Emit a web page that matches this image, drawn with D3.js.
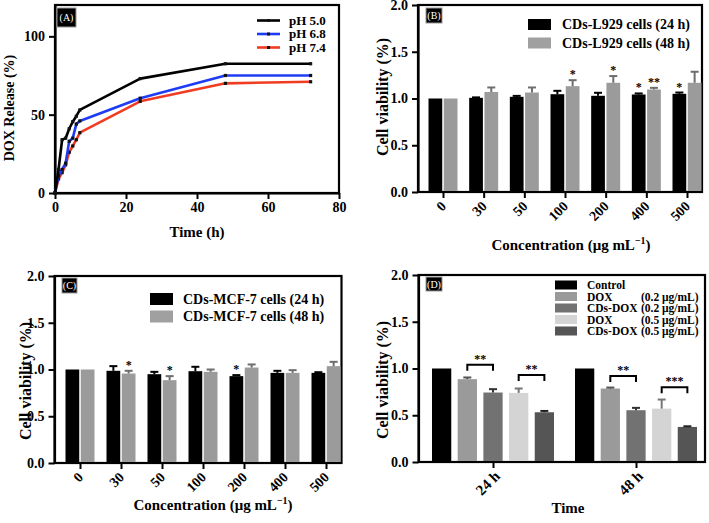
<!DOCTYPE html>
<html><head><meta charset="utf-8">
<script src="https://cdn.jsdelivr.net/npm/d3@7"></script>
<style>body{margin:0;background:#fff} svg{display:block}</style>
</head><body><svg id="c" width="709" height="523"></svg>
<script>
// ---------- Panel A: DOX release ----------
const releaseTime = [0, 1, 2, 3, 4, 5, 6, 7, 24, 48, 72];
const releasePH50 = [0, 15, 34, 35, 41, 45.5, 49, 53, 73, 82.5, 82.5];
const releasePH68 = [0, 11, 15, 19, 33, 35, 44, 46, 60.5, 75, 75];
const releasePH74 = [0, 9, 13, 18, 26, 30, 34, 38.5, 58.5, 70, 71];
const releaseLabels = ["pH 5.0", "pH 6.8", "pH 7.4"];
const releaseColors = ["#000000", "#1f3cf5", "#f03c22"];
const releaseXTicks = [0, 20, 40, 60, 80];
const releaseYTicks = [0, 50, 100];

// ---------- Panel B: L929 ----------
const concCategories = ["0", "30", "50", "100", "200", "400", "500"];
const l929_24 = [1.00, 1.007, 1.018, 1.046, 1.029, 1.043, 1.05];
const l929_24Err = [0, 0.005, 0.01, 0.036, 0.032, 0.011, 0.014];
const l929_24Sig = ["", "", "", "", "", "*", "*"];
const l929_48 = [1.00, 1.07, 1.064, 1.132, 1.168, 1.096, 1.168];
const l929_48Err = [0, 0.048, 0.054, 0.064, 0.072, 0.018, 0.118];
const l929_48Sig = ["", "", "", "*", "*", "**", ""];
const l929Legend = ["CDs-L929 cells (24 h)", "CDs-L929 cells (48 h)"];

// ---------- Panel C: MCF-7 ----------
const mcf7_24 = [1.00, 0.986, 0.95, 0.982, 0.929, 0.964, 0.964];
const mcf7_24Err = [0, 0.05, 0.025, 0.047, 0.011, 0.022, 0.007];
const mcf7_24Sig = ["", "", "", "", "*", "", ""];
const mcf7_48 = [1.00, 0.957, 0.886, 0.975, 1.021, 0.964, 1.036];
const mcf7_48Err = [0, 0.029, 0.043, 0.025, 0.033, 0.029, 0.046];
const mcf7_48Sig = ["", "*", "*", "", "", "", ""];
const mcf7Legend = ["CDs-MCF-7 cells (24 h)", "CDs-MCF-7 cells (48 h)"];

const viabilityTicks = [0, 0.5, 1.0, 1.5, 2.0];

// ---------- Panel D: DOX treatments ----------
const timeCategories = ["24 h", "48 h"];
const treatControl = [1.0, 1.0];
const treatControlErr = [0, 0];
const treatDox02 = [0.886, 0.786];
const treatDox02Err = [0.018, 0.01];
const treatCdsDox02 = [0.743, 0.554];
const treatCdsDox02Err = [0.036, 0.025];
const treatDox05 = [0.739, 0.571];
const treatDox05Err = [0.047, 0.097];
const treatCdsDox05 = [0.532, 0.375];
const treatCdsDox05Err = [0.014, 0.007];
const treatNames = ["Control", "DOX", "CDs-DOX", "DOX", "CDs-DOX"];
const treatDoses = ["", "(0.2 μg/mL)", "(0.2 μg/mL)", "(0.5 μg/mL)", "(0.5 μg/mL)"];
const treatColors = ["#000000", "#9a9a9a", "#727272", "#d4d4d4", "#555555"];
// significance brackets: [time index, series a, series b, label, bracket level]
const treatBrackets = [[0, 1, 2, "**", 1.04], [0, 3, 4, "**", 0.93], [1, 1, 2, "**", 0.92], [1, 3, 4, "***", 0.80]];

// ======================================================
const FONT = '"Liberation Serif","Times New Roman",serif';
const svg = d3.select("#c");

function styleAxis(g, fs) {
  g.select(".domain").attr("stroke", "#000").attr("stroke-width", 2.2);
  g.selectAll(".tick line").attr("stroke", "#000").attr("stroke-width", 2);
  g.selectAll(".tick text").attr("font-family", FONT).attr("font-weight", "bold")
    .attr("font-size", fs).attr("fill", "#000");
}
function frame(b) {
  svg.append("rect").attr("x", b.l).attr("y", b.t).attr("width", b.r - b.l).attr("height", b.b - b.t)
    .attr("fill", "none").attr("stroke", "#000").attr("stroke-width", 2.2);
}
function tag(x, y, w, h, label) {
  svg.append("rect").attr("x", x).attr("y", y).attr("width", w).attr("height", h)
    .attr("fill", "#000").attr("stroke", "#999").attr("stroke-width", 1);
  svg.append("text").attr("x", x + w / 2).attr("y", y + h / 2).attr("dy", "0.36em")
    .attr("text-anchor", "middle").attr("font-family", FONT).attr("font-size", 10)
    .attr("fill", "#fff").text(label);
}
function yTitle(x, y, fs, txt) {
  svg.append("text").attr("transform", `translate(${x},${y}) rotate(-90)`).attr("dy", "0.35em")
    .attr("text-anchor", "middle").attr("font-family", FONT).attr("font-weight", "bold")
    .attr("font-size", fs).text(txt);
}
function concTitle(x, y) {
  const t = svg.append("text").attr("x", x).attr("y", y).attr("text-anchor", "middle")
    .attr("font-family", FONT).attr("font-weight", "bold").attr("font-size", 15);
  t.append("tspan").text("Concentration (μg mL");
  t.append("tspan").attr("dy", -6).attr("font-size", 10).text("−1");
  t.append("tspan").attr("dy", 6).text(")");
}

// ---------------- Panel A ----------------
(function () {
  const b = { l: 55, r: 339, t: 5, b: 193 };
  const x = d3.scaleLinear().domain([0, 80]).range([b.l, b.r]);
  const y = d3.scaleLinear().domain([0, 120]).range([b.b, b.t]);
  frame(b);
  const gx = svg.append("g").attr("transform", `translate(0,${b.b})`)
    .call(d3.axisBottom(x).tickValues(releaseXTicks).tickSize(6).tickSizeOuter(0).tickPadding(3));
  styleAxis(gx, 14);
  const gy = svg.append("g").attr("transform", `translate(${b.l},0)`)
    .call(d3.axisLeft(y).tickValues(releaseYTicks).tickSize(6).tickSizeOuter(0).tickPadding(4));
  styleAxis(gy, 14);
  const seriesA = [releasePH50, releasePH68, releasePH74];
  const line = d3.line().x((d, i) => x(releaseTime[i])).y(d => y(d));
  [2, 1, 0].forEach(k => {
    svg.append("path").datum(seriesA[k]).attr("d", line).attr("fill", "none")
      .attr("stroke", releaseColors[k]).attr("stroke-width", 2.6).attr("stroke-linejoin", "round");
    svg.append("g").selectAll("rect").data(seriesA[k]).join("rect")
      .attr("x", (d, i) => x(releaseTime[i]) - 1.6).attr("y", d => y(d) - 1.6)
      .attr("width", 3.2).attr("height", 3.2).attr("fill", "#111");
  });
  releaseLabels.forEach((lab, k) => {
    const yy = [20.5, 34, 47.5][k];
    svg.append("line").attr("x1", 257).attr("x2", 280).attr("y1", yy).attr("y2", yy)
      .attr("stroke", releaseColors[k]).attr("stroke-width", 2.6);
    svg.append("rect").attr("x", 267).attr("y", yy - 1.5).attr("width", 3).attr("height", 3).attr("fill", "#111");
    svg.append("text").attr("x", 289).attr("y", yy).attr("dy", "0.33em").attr("font-family", FONT)
      .attr("font-weight", "bold").attr("font-size", 13).text(lab);
  });
  tag(57, 8, 19, 19, "(A)");
  yTitle(9, 108, 14, "DOX Release (%)");
  svg.append("text").attr("x", 197).attr("y", 237).attr("text-anchor", "middle").attr("font-family", FONT)
    .attr("font-weight", "bold").attr("font-size", 15).text("Time (h)");
})();

// ---------------- Bar panel helper ----------------
function barPanel(o) {
  const b = o.box;
  const x0 = d3.scalePoint().domain(o.cats).range(o.xRange);
  const x1 = d3.scaleBand().domain(d3.range(o.series.length)).range(o.inner).paddingInner(o.pad);
  const y = d3.scaleLinear().domain([0, 2]).range([b.b, b.t]);
  frame(b);
  o.series.forEach((s, k) => {
    const g = svg.append("g");
    g.selectAll("rect").data(s.values).join("rect")
      .attr("x", (d, i) => x0(o.cats[i]) + x1(k)).attr("width", x1.bandwidth())
      .attr("y", d => y(d)).attr("height", d => b.b - y(d)).attr("fill", s.color);
    const ec = s.errColor;
    s.values.forEach((v, i) => {
      const cx = x0(o.cats[i]) + x1(k) + x1.bandwidth() / 2;
      const e = s.errs[i];
      if (e > 0) {
        g.append("line").attr("x1", cx).attr("x2", cx).attr("y1", y(v)).attr("y2", y(v + e))
          .attr("stroke", ec).attr("stroke-width", 2);
        g.append("line").attr("x1", cx - 4).attr("x2", cx + 4).attr("y1", y(v + e)).attr("y2", y(v + e))
          .attr("stroke", ec).attr("stroke-width", 2);
      }
      if (s.sig && s.sig[i]) {
        g.append("text").attr("x", cx).attr("y", y(v + e) - 2).attr("text-anchor", "middle")
          .attr("font-family", FONT).attr("font-weight", "bold").attr("font-size", 12)
          .attr("fill", "#000").text(s.sig[i]);
      }
    });
  });
  const gx = svg.append("g").attr("transform", `translate(0,${b.b})`)
    .call(d3.axisBottom(x0).tickSize(6).tickSizeOuter(0).tickFormat(""));
  styleAxis(gx, 14);
  gx.select(".domain").attr("d", `M${b.l},0H${b.r}`);
  // rotated category labels
  const lg = svg.append("g");
  o.cats.forEach(c => {
    lg.append("g").attr("transform", `translate(${x0(c) + o.rot[0]},${b.b + o.rot[1]})`)
      .append("text").attr("transform", "rotate(-45)").attr("text-anchor", "end")
      .attr("font-family", FONT).attr("font-weight", "bold").attr("font-size", o.xfs || 14)
      .attr("fill", "#000").text(c);
  });
  const gy = svg.append("g").attr("transform", `translate(${b.l},0)`)
    .call(d3.axisLeft(y).tickValues(viabilityTicks).tickFormat(d3.format(".1f")).tickSize(6).tickSizeOuter(0).tickPadding(4));
  styleAxis(gy, 14);
  return { x0, x1, y };
}

// ---------------- Panel B ----------------
(function () {
  const box = { l: 418, r: 702, t: 5, b: 192 };
  barPanel({
    box, cats: concCategories, xRange: [443, 687], inner: [-14.5, 14.5], pad: 0.1, rot: [4, 15],
    series: [
      { values: l929_24, errs: l929_24Err, sig: l929_24Sig, color: "#000", errColor: "#000" },
      { values: l929_48, errs: l929_48Err, sig: l929_48Sig, color: "#9b9b9b", errColor: "#6e6e6e" }
    ]
  });
  const cols = ["#000", "#a0a0a0"];
  l929Legend.forEach((lab, k) => {
    const yy = [24.5, 43][k];
    svg.append("rect").attr("x", 528).attr("y", yy - 5.5).attr("width", 23).attr("height", 11).attr("fill", cols[k]);
    svg.append("text").attr("x", 562).attr("y", yy).attr("dy", "0.35em").attr("font-family", FONT)
      .attr("font-weight", "bold").attr("font-size", 14).text(lab);
  });
  tag(426, 8, 16, 15, "(B)");
  yTitle(382, 97, 16, "Cell viability (%)");
  concTitle(571, 250);
})();

// ---------------- Panel C ----------------
(function () {
  const box = { l: 54.5, r: 341.5, t: 276, b: 463 };
  barPanel({
    box, cats: concCategories, xRange: [80, 326], inner: [-14.5, 14.5], pad: 0.1, rot: [4, 15],
    series: [
      { values: mcf7_24, errs: mcf7_24Err, sig: mcf7_24Sig, color: "#000", errColor: "#000" },
      { values: mcf7_48, errs: mcf7_48Err, sig: mcf7_48Sig, color: "#9b9b9b", errColor: "#6e6e6e" }
    ]
  });
  const cols = ["#000", "#a0a0a0"];
  mcf7Legend.forEach((lab, k) => {
    const yy = [299, 316.5][k];
    svg.append("rect").attr("x", 150).attr("y", yy - 6).attr("width", 23).attr("height", 12).attr("fill", cols[k]);
    svg.append("text").attr("x", 183).attr("y", yy).attr("dy", "0.35em").attr("font-family", FONT)
      .attr("font-weight", "bold").attr("font-size", 14).text(lab);
  });
  tag(62, 278, 15, 15, "(C)");
  yTitle(25, 381, 16, "Cell viability (%)");
  concTitle(213, 510);
})();

// ---------------- Panel D ----------------
(function () {
  const box = { l: 418.5, r: 705, t: 275, b: 462 };
  const seriesVals = [treatControl, treatDox02, treatCdsDox02, treatDox05, treatCdsDox05];
  const seriesErrs = [treatControlErr, treatDox02Err, treatCdsDox02Err, treatDox05Err, treatCdsDox05Err];
  const errCols = ["#000", "#555", "#333", "#777", "#222"];
  const sc = barPanel({
    box, cats: timeCategories, xRange: [493, 636], inner: [-61, 61], pad: 0.25, rot: [8, 15], xfs: 15,
    series: seriesVals.map((v, k) => ({ values: v, errs: seriesErrs[k], color: treatColors[k], errColor: errCols[k] }))
  });
  treatBrackets.forEach(([ti, a, bb, lab, lev]) => {
    const xa = sc.x0(timeCategories[ti]) + sc.x1(a) + sc.x1.bandwidth() / 2;
    const xb = sc.x0(timeCategories[ti]) + sc.x1(bb) + sc.x1.bandwidth() / 2;
    const yy = sc.y(lev);
    svg.append("path").attr("d", `M${xa},${yy + 6}V${yy}H${xb}V${yy + 6}`)
      .attr("fill", "none").attr("stroke", "#000").attr("stroke-width", 2);
    svg.append("text").attr("x", (xa + xb) / 2).attr("y", yy - 2).attr("text-anchor", "middle")
      .attr("font-family", FONT).attr("font-weight", "bold").attr("font-size", 12).attr("fill", "#000").text(lab);
  });
  treatNames.forEach((nm, k) => {
    const yy = 285 + k * 11.5;
    svg.append("rect").attr("x", 555).attr("y", yy - 4.5).attr("width", 22).attr("height", 9).attr("fill", treatColors[k]);
    svg.append("text").attr("x", 587).attr("y", yy).attr("dy", "0.35em").attr("font-family", FONT)
      .attr("font-weight", "bold").attr("font-size", 11.5).text(nm);
    if (treatDoses[k]) {
      svg.append("text").attr("x", 641).attr("y", yy).attr("dy", "0.35em").attr("font-family", FONT)
        .attr("font-weight", "bold").attr("font-size", 11.5).text(treatDoses[k]);
    }
  });
  tag(426, 277, 16, 14, "(D)");
  yTitle(382, 380, 16, "Cell viability (%)");
  svg.append("text").attr("x", 568).attr("y", 513).attr("text-anchor", "middle").attr("font-family", FONT)
    .attr("font-weight", "bold").attr("font-size", 15).text("Time");
})();
</script></body></html>
